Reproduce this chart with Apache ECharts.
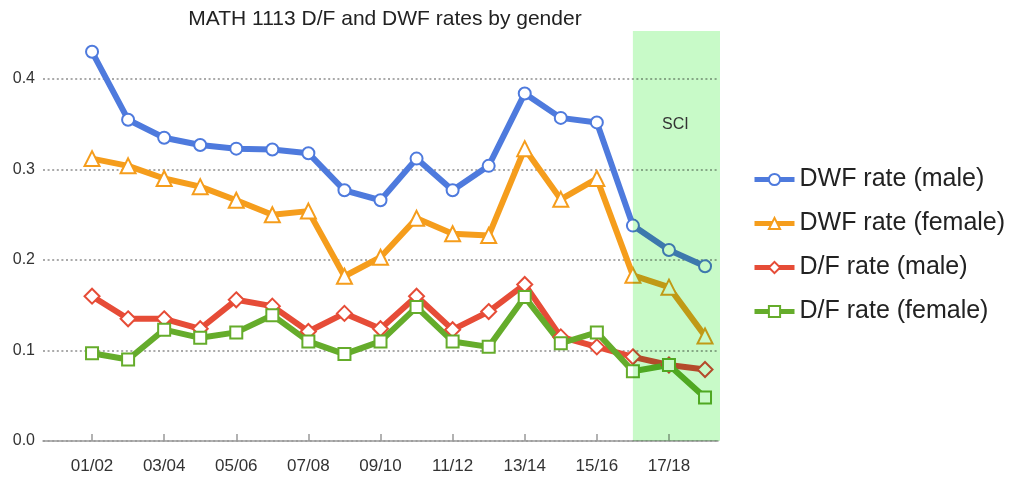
<!DOCTYPE html>
<html>
<head>
<meta charset="utf-8">
<script src="https://cdn.jsdelivr.net/npm/echarts@6/dist/echarts.min.js"></script>
<style>
  html, body { margin: 0; padding: 0; background: #fff; }
  #chart { width: 1014px; height: 479px; }
</style>
</head>
<body>
<div id="chart"></div>
<script>
// school years, one point each
const years = ['01/02', '02/03', '03/04', '04/05', '05/06', '06/07', '07/08', '08/09', '09/10',
  '10/11', '11/12', '12/13', '13/14', '14/15', '15/16', '16/17', '17/18', '18/19'];
const labelYears = ['01/02', '03/04', '05/06', '07/08', '09/10', '11/12', '13/14', '15/16', '17/18'];
const yTicks = [0, 0.1, 0.2, 0.3, 0.4];

const dwfMale   = [0.430, 0.355, 0.335, 0.327, 0.323, 0.322, 0.318, 0.277, 0.266, 0.312,
  0.277, 0.304, 0.384, 0.357, 0.352, 0.238, 0.211, 0.193];
const dwfFemale = [0.312, 0.304, 0.290, 0.281, 0.266, 0.250, 0.254, 0.182, 0.203, 0.246,
  0.229, 0.227, 0.323, 0.267, 0.290, 0.183, 0.170, 0.116];
const dfMale    = [0.160, 0.135, 0.135, 0.124, 0.156, 0.149, 0.121, 0.141, 0.124, 0.160,
  0.123, 0.143, 0.173, 0.115, 0.104, 0.093, 0.084, 0.079];
const dfFemale  = [0.097, 0.090, 0.123, 0.114, 0.120, 0.139, 0.110, 0.096, 0.110, 0.148,
  0.110, 0.104, 0.159, 0.108, 0.120, 0.077, 0.084, 0.048];

const sciFrom = '16/17';
const sciLabel = 'SCI';

const font = 'Liberation Sans, Arial, sans-serif';
const xMin = -1.36, xMax = years.length - 1 + 0.36;
const yMax = 0.453;

function pts(arr) {
  return arr.map((v, i) => [i, v]);
}

function lineSeries(name, arr, color, symbol, size) {
  return {
    name: name,
    type: 'line',
    data: pts(arr),
    z: 2,
    symbol: symbol,
    symbolSize: size,
    lineStyle: { color: color, width: 6 },
    itemStyle: { color: color, borderWidth: 3.5 },
    emphasis: { disabled: true }
  };
}

const chart = echarts.init(document.getElementById('chart'));
chart.setOption({
  animation: false,
  backgroundColor: '#fff',
  title: {
    text: 'MATH 1113 D/F and DWF rates by gender',
    left: 380,
    textAlign: 'center',
    top: 4,
    textStyle: { fontFamily: font, fontSize: 21, fontWeight: 'normal', color: '#222' }
  },
  legend: {
    data: ['DWF rate (male)', 'DWF rate (female)', 'D/F rate (male)', 'D/F rate (female)'],
    orient: 'vertical',
    left: 747,
    top: 162,
    itemWidth: 40,
    itemHeight: 14,
    itemGap: 19,
    lineStyle: { width: 5 },
    textStyle: { fontFamily: font, fontSize: 25, color: '#222' }
  },
  grid: { left: 43, right: 296, top: 31, bottom: 38 },
  xAxis: {
    type: 'value',
    min: xMin,
    max: xMax,
    offset: 8,
    splitLine: { show: false },
    axisLine: { show: true, lineStyle: { color: '#999', width: 1.5 } },
    axisTick: {
      show: true, inside: true, length: 7,
      customValues: labelYears.map(y => years.indexOf(y)),
      lineStyle: { color: '#999', width: 1.5 }
    },
    axisLabel: {
      customValues: labelYears.map(y => years.indexOf(y)),
      formatter: v => years[v],
      fontFamily: font, fontSize: 17, color: '#333', margin: 9
    }
  },
  yAxis: {
    type: 'value',
    min: 0,
    max: yMax,
    interval: 0.1,
    axisLine: { show: false },
    axisTick: { show: false },
    axisLabel: {
      showMaxLabel: false,
      formatter: v => (yTicks.some(t => Math.abs(t - v) < 1e-6) ? v.toFixed(1) : ''),
      fontFamily: font, fontSize: 16, color: '#333', margin: 8
    },
    splitLine: {
      showMaxLine: false,
      lineStyle: { color: '#aaa', width: 2, type: [2, 2.6] }
    }
  },
  series: [
    lineSeries('DWF rate (male)', dwfMale, '#4e7add', 'emptyCircle', 12),
    lineSeries('DWF rate (female)', dwfFemale, '#f59d1c', 'emptyTriangle', 15),
    lineSeries('D/F rate (male)', dfMale, '#e64c37', 'emptyDiamond', 15),
    lineSeries('D/F rate (female)', dfFemale, '#65ac2b', 'emptyRect', 12)
  ]
});

// SCI band: multiplied over the lines so they show through tinted
const zr = chart.getZr();
const p0 = chart.convertToPixel({ gridIndex: 0 }, [years.indexOf(sciFrom), yMax]);
const p1 = chart.convertToPixel({ gridIndex: 0 }, [xMax, 0]);
const band = new echarts.graphic.Rect({
  shape: { x: p0[0], y: p0[1], width: p1[0] - p0[0] + 2, height: p1[1] - p0[1] },
  style: { fill: 'rgb(200, 250, 200)', blend: 'multiply' },
  z: 50,
  silent: true
});
zr.add(band);
const mid = chart.convertToPixel({ gridIndex: 0 }, [(years.indexOf(sciFrom) + xMax) / 2, 0.35]);
zr.add(new echarts.graphic.Text({
  style: {
    text: sciLabel, x: mid[0], y: mid[1],
    align: 'center', verticalAlign: 'middle',
    font: '16px ' + font, fill: '#333'
  },
  z: 60,
  silent: true
}));
</script>
</body>
</html>
